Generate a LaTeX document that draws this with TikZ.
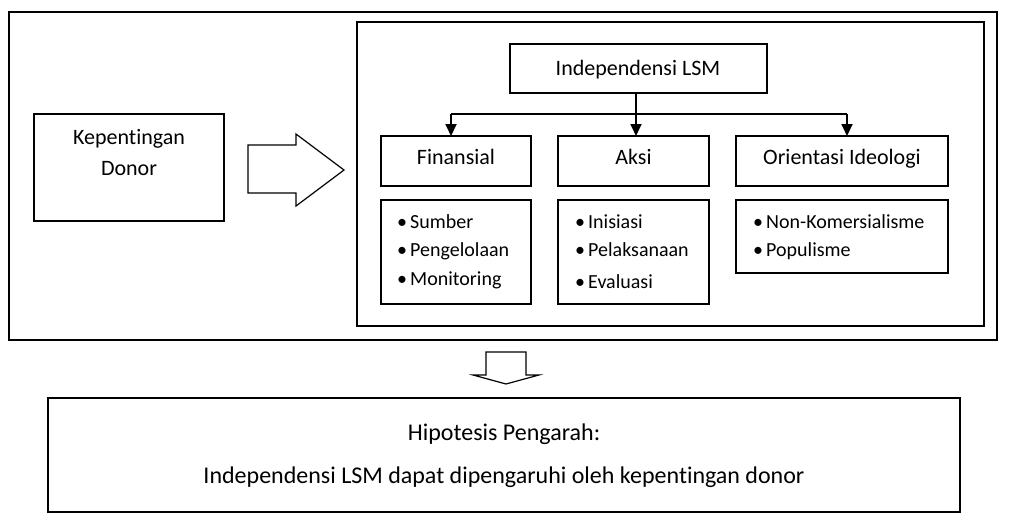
\documentclass[tikz,border=0pt]{standalone}
\usepackage{fontspec}
\setmainfont{Carlito}[Ligatures=NoCommon]
\usetikzlibrary{arrows.meta}
\begin{document}
\begin{tikzpicture}[x=1pt,y=-1pt,
  frame/.style={draw, line width=1.6pt, inner sep=0pt, outer sep=0pt, anchor=north west},
  box/.style={draw, line width=1.2pt, inner sep=0pt, outer sep=0pt, anchor=north west},
  lbl/.style={anchor=base, inner sep=0pt, font=\fontsize{22}{26}\selectfont},
  big/.style={anchor=base, inner sep=0pt, font=\fontsize{24}{28}\selectfont},
  item/.style={anchor=base west, inner sep=0pt, font=\fontsize{20}{24}\selectfont},
  link/.style={line width=1.8pt},
  arr/.style={line width=1.8pt, -{Triangle[length=12pt,width=11pt]}},
  blockarrow/.style={draw, line width=1.2pt, fill=white, line join=miter}]
\useasboundingbox (0,0) rectangle (1009,528);
\newcommand{\bul}[1]{\makebox[13pt][l]{•}#1}
% frames
\node[frame, minimum width=988pt, minimum height=328pt] (outer) at (9,12) {};
\node[frame, minimum width=627pt, minimum height=304pt] (inner) at (357,22) {};
% left box
\node[box, minimum width=190pt, minimum height=107pt] (kep) at (34,114) {};
\node[lbl] (kep1) at (129,144) {Kepentingan};
\node[lbl] (kep2) at (129,175) {Donor};
% right block arrow
\draw[blockarrow] (248,145) -- (296,145) -- (296,134) -- (344,170) -- (296,206) -- (296,193) -- (248,193) -- cycle;
% top box
\node[box, minimum width=257pt, minimum height=49pt] (ind) at (510,44) {};
\node[lbl] (indt) at (638,75) {Independensi LSM};
% row 1
\node[box, minimum width=150pt, minimum height=50pt] (fin) at (381,136) {};
\node[box, minimum width=151pt, minimum height=50pt] (aks) at (558,136) {};
\node[box, minimum width=212pt, minimum height=50pt] (ori) at (736,136) {};
\node[lbl] (fint) at (456,164) {Finansial};
\node[lbl] (akst) at (633.5,164) {Aksi};
\node[lbl] (orit) at (842,164) {Orientasi Ideologi};
% row 2
\node[box, minimum width=150pt, minimum height=104pt] (finl) at (381,200) {};
\node[box, minimum width=151pt, minimum height=104pt] (aksl) at (558,200) {};
\node[box, minimum width=212pt, minimum height=73pt] (oril) at (736,200) {};
\node[item] (f1) at (397,228) {\bul{Sumber}};
\node[item] (f2) at (397,256) {\bul{Pengelolaan}};
\node[item] (f3) at (397,285) {\bul{Monitoring}};
\node[item] (a1) at (575,228) {\bul{Inisiasi}};
\node[item] (a2) at (575,256) {\bul{Pelaksanaan}};
\node[item] (a3) at (575,288) {\bul{Evaluasi}};
\node[item] (o1) at (753,228) {\bul{Non-Komersialisme}};
\node[item] (o2) at (753,256) {\bul{Populisme}};
% connectors
\coordinate (split) at (636,114);
\coordinate (bl) at (451,114);
\coordinate (br) at (847,114);
\draw[link] (bl) -- (br);
\draw[link] (split |- ind.south) -- (split);
\draw[arr] (split) -- (split |- aks.north);
\draw[arr] (bl) -- (bl |- fin.north);
\draw[arr] (br) -- (br |- ori.north);
% down block arrow
\draw[blockarrow] (486,352) -- (526,352) -- (526,375) -- (539,375) -- (506,384) -- (473,375) -- (486,375) -- cycle;
% hypothesis box
\node[box, minimum width=912pt, minimum height=114pt] (hyp) at (48,398) {};
\node[big] (h1) at (504,440) {Hipotesis Pengarah:};
\node[big] (h2) at (504,483) {Independensi LSM dapat dipengaruhi oleh kepentingan donor};
\end{tikzpicture}
\end{document}
